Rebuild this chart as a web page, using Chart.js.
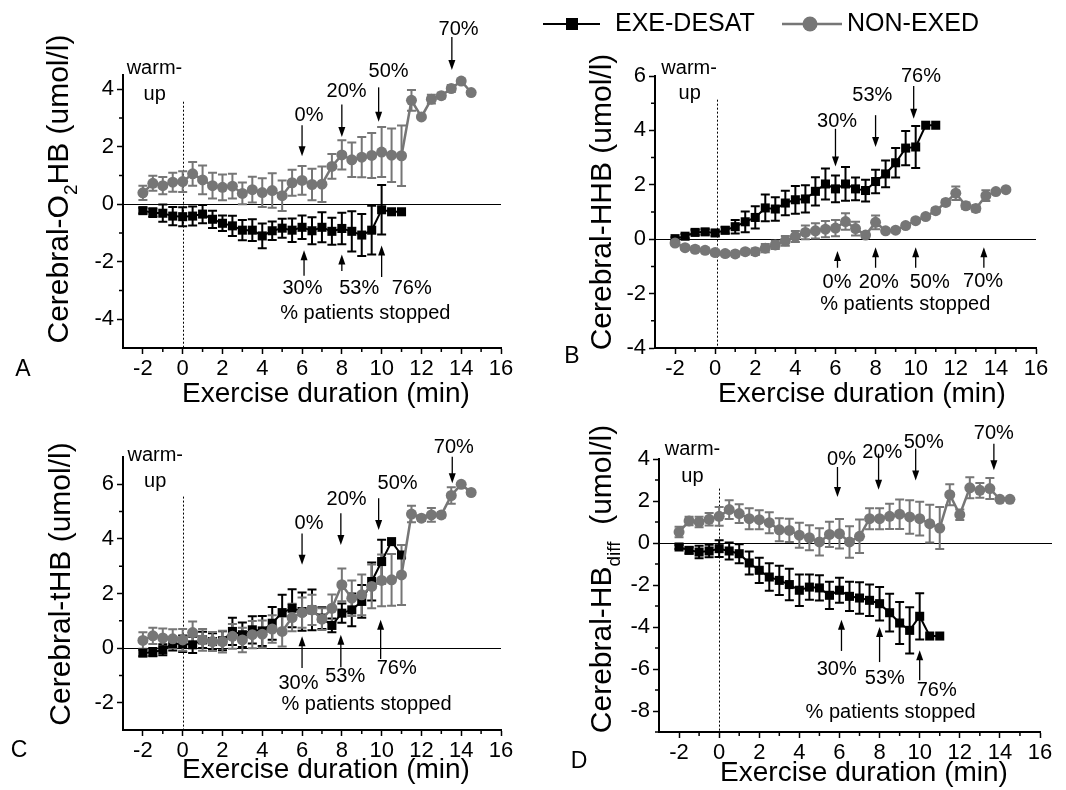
<!DOCTYPE html>
<html>
<head>
<meta charset="utf-8">
<script src="https://cdn.jsdelivr.net/npm/chart.js@4.4.0/dist/chart.umd.min.js"></script>
<style>
body { margin: 0; background: #fff; width: 1066px; height: 790px; position: relative; overflow: hidden; }
canvas { position: absolute; }
</style>
</head>
<body>
<canvas id="chartA" width="540" height="420" style="left:0px;top:0px"></canvas>
<canvas id="chartB" width="536" height="420" style="left:530px;top:0px"></canvas>
<canvas id="chartC" width="540" height="390" style="left:0px;top:400px"></canvas>
<canvas id="chartD" width="536" height="390" style="left:530px;top:400px"></canvas>
<script>
var FONT = '"Liberation Sans", Arial, sans-serif';
var GRAY = 'rgb(118,118,118)';

// time points (min)
var timesDesat = [-2, -1.5, -1, -0.5, 0, 0.5, 1, 1.5, 2, 2.5, 3, 3.5, 4, 4.5, 5, 5.5, 6, 6.5, 7, 7.5, 8, 8.5, 9, 9.5, 10, 10.5, 11];
var timesNon = [-2, -1.5, -1, -0.5, 0, 0.5, 1, 1.5, 2, 2.5, 3, 3.5, 4, 4.5, 5, 5.5, 6, 6.5, 7, 7.5, 8, 8.5, 9, 9.5, 10, 10.5, 11, 11.5, 12, 12.5, 13, 13.5, 14, 14.5];

var xTicks = [-2, 0, 2, 4, 6, 8, 10, 12, 14, 16];
var xMinor = [-1, 1, 3, 5, 7, 9, 11, 13, 15];

// A: Cerebral-O2HB
var o2hbDesat = [-0.22, -0.29, -0.31, -0.41, -0.43, -0.41, -0.34, -0.52, -0.66, -0.75, -0.90, -0.90, -1.10, -0.92, -0.83, -0.90, -0.80, -0.92, -0.80, -0.94, -0.84, -0.94, -1.07, -0.90, -0.19, -0.26, -0.26];
var o2hbDesatErr = [0.1, 0.15, 0.3, 0.32, 0.33, 0.33, 0.32, 0.3, 0.27, 0.35, 0.35, 0.38, 0.43, 0.32, 0.33, 0.41, 0.41, 0.47, 0.52, 0.47, 0.55, 0.7, 0.73, 0.85, 0.86, 0, 0];
var o2hbNon = [0.40, 0.73, 0.65, 0.77, 0.79, 1.06, 0.85, 0.65, 0.59, 0.63, 0.38, 0.51, 0.41, 0.48, 0.30, 0.75, 0.83, 0.69, 0.70, 1.32, 1.72, 1.55, 1.64, 1.70, 1.82, 1.71, 1.69, 3.62, 3.04, 3.66, 3.78, 4.03, 4.29, 3.89];
var o2hbNonErr = [0.25, 0.26, 0.3, 0.33, 0.36, 0.41, 0.5, 0.45, 0.45, 0.43, 0.38, 0.45, 0.5, 0.6, 0.53, 0.45, 0.5, 0.55, 0.62, 0.43, 0.51, 0.6, 0.7, 0.78, 0.87, 0.93, 1.05, 0.36, 0.05, 0.15, 0.1, 0.12, 0.05, 0.05];
var yTicksA = [-4, -2, 0, 2, 4];
var yMinorA = [-3, -1, 1, 3];

// B: Cerebral-HHB
var hhbDesat = [0.02, 0.11, 0.25, 0.27, 0.23, 0.33, 0.46, 0.64, 0.80, 1.15, 1.11, 1.33, 1.45, 1.48, 1.76, 2.03, 1.85, 2.03, 1.85, 1.79, 2.12, 2.40, 2.81, 3.35, 3.39, 4.19, 4.19];
var hhbDesatErr = [0.05, 0.08, 0.1, 0.1, 0.1, 0.12, 0.25, 0.38, 0.41, 0.49, 0.43, 0.45, 0.51, 0.5, 0.52, 0.57, 0.49, 0.62, 0.42, 0.4, 0.43, 0.49, 0.54, 0.63, 0.77, 0, 0];
var hhbNon = [-0.14, -0.31, -0.37, -0.41, -0.49, -0.53, -0.54, -0.46, -0.46, -0.33, -0.21, -0.06, 0.10, 0.25, 0.31, 0.37, 0.41, 0.65, 0.39, 0.15, 0.62, 0.31, 0.33, 0.50, 0.68, 0.83, 1.05, 1.35, 1.69, 1.23, 1.13, 1.60, 1.75, 1.82];
var hhbNonErr = [0.08, 0.08, 0.1, 0.1, 0.1, 0.1, 0.1, 0.1, 0.12, 0.15, 0.15, 0.18, 0.2, 0.25, 0.28, 0.3, 0.3, 0.3, 0.25, 0.1, 0.25, 0.08, 0.08, 0.08, 0.08, 0.08, 0.1, 0.1, 0.25, 0.12, 0.12, 0.2, 0.05, 0.05];
var yTicksB = [-4, -2, 0, 2, 4, 6];
var yMinorB = [-3, -1, 1, 3, 5];

// C: Cerebral-tHB
var thbDesat = [-0.18, -0.15, -0.06, 0.16, 0.16, 0.12, 0.30, 0.24, 0.27, 0.61, 0.49, 0.67, 0.63, 0.91, 1.30, 1.46, 1.34, 1.40, 1.10, 0.83, 1.28, 1.40, 1.71, 2.44, 3.17, 3.90, 3.41];
var thbDesatErr = [0.12, 0.15, 0.2, 0.25, 0.3, 0.3, 0.3, 0.3, 0.35, 0.5, 0.45, 0.5, 0.55, 0.6, 0.65, 0.7, 0.7, 0.75, 0.4, 0.25, 0.35, 0.6, 0.6, 0.7, 0.8, 0, 0.1];
var thbNon = [0.28, 0.45, 0.37, 0.34, 0.30, 0.57, 0.30, 0.24, 0.24, 0.43, 0.30, 0.49, 0.51, 0.70, 0.61, 1.12, 1.30, 1.40, 1.06, 1.46, 2.32, 1.83, 1.95, 2.26, 2.48, 2.50, 2.68, 4.91, 4.76, 4.88, 4.88, 5.59, 6.00, 5.70];
var thbNonErr = [0.3, 0.3, 0.35, 0.35, 0.4, 0.4, 0.4, 0.35, 0.4, 0.45, 0.45, 0.5, 0.5, 0.5, 0.55, 0.5, 0.55, 0.55, 0.4, 0.5, 0.6, 0.65, 0.75, 0.8, 0.95, 0.95, 1.1, 0.3, 0.1, 0.25, 0.1, 0.3, 0.05, 0.05];
var yTicksC = [-2, 0, 2, 4, 6];
var yMinorC = [-1, 1, 3, 5];

// D: Cerebral-HBdiff
var hbdiffDesat = [-0.19, -0.35, -0.43, -0.38, -0.27, -0.38, -0.51, -0.95, -1.30, -1.62, -1.78, -1.98, -2.25, -2.10, -2.14, -2.49, -2.25, -2.54, -2.62, -2.73, -2.89, -3.32, -3.81, -4.16, -3.49, -4.43, -4.43];
var hbdiffDesatErr = [0.1, 0.15, 0.3, 0.3, 0.4, 0.4, 0.45, 0.55, 0.6, 0.65, 0.7, 0.75, 0.75, 0.6, 0.6, 0.65, 0.6, 0.7, 0.75, 0.75, 0.8, 0.9, 1.0, 1.1, 1.1, 0, 0];
var hbdiffNon = [0.52, 1.05, 1.00, 1.13, 1.27, 1.59, 1.40, 1.16, 1.11, 0.97, 0.63, 0.60, 0.37, 0.25, 0.05, 0.41, 0.44, 0.05, 0.32, 1.16, 1.16, 1.27, 1.37, 1.24, 1.16, 0.92, 0.71, 2.30, 1.35, 2.63, 2.51, 2.59, 2.08, 2.08];
var hbdiffNonErr = [0.25, 0.2, 0.25, 0.3, 0.45, 0.45, 0.45, 0.5, 0.45, 0.5, 0.55, 0.55, 0.6, 0.6, 0.65, 0.6, 0.7, 0.75, 0.8, 0.5, 0.5, 0.6, 0.7, 0.8, 0.8, 0.9, 1.0, 0.5, 0.25, 0.5, 0.35, 0.5, 0.05, 0.05];
var yTicksD = [-8, -6, -4, -2, 0, 2, 4];
var yMinorD = [-9, -7, -5, -3, -1, 1, 3];

// annotations: [text, x, y] and arrows [x, yTail, yHead]
var labelsA = [['warm-', -1.42, 4.73], ['up', -1.41, 3.82], ['0%', 6.35, 3.1], ['20%', 8.24, 3.92], ['50%', 10.35, 4.62], ['70%', 13.87, 6.1],
    ['30%', 6.02, -2.93], ['53%', 8.87, -2.93], ['76%', 11.51, -2.93], ['% patients stopped', 9.18, -3.81]];
var arrowsA = [[6, 2.75, 1.67], [8, 3.47, 2.34], [9.85, 4.07, 2.87], [13.53, 5.82, 4.67], [6.1, -2.49, -1.6], [8, -2.32, -1.75], [10, -2.53, -1.43]];

var labelsB = [['warm-', -1.3, 6.28], ['up', -1.27, 5.36], ['30%', 6.08, 4.31], ['53%', 7.84, 5.3], ['76%', 10.26, 5.97],
    ['0%', 6.08, -1.6], ['20%', 8.16, -1.6], ['50%', 10.7, -1.6], ['70%', 13.36, -1.55], ['% patients stopped', 9.48, -2.4]];
var arrowsB = [[6, 4.06, 2.67], [8, 4.56, 3.39], [9.9, 5.63, 4.43], [6.1, -1.05, -0.43], [8, -1.05, -0.3], [10, -1.05, -0.3], [13.4, -1.05, -0.3]];

var labelsC = [['warm-', -1.38, 7.07], ['up', -1.38, 6.1], ['0%', 6.35, 4.57], ['20%', 8.24, 5.43], ['50%', 10.8, 6.04], ['70%', 13.63, 7.35],
    ['30%', 5.82, -1.28], ['53%', 8.17, -1.04], ['76%', 10.76, -0.73], ['% patients stopped', 9.24, -2.07]];
var arrowsC = [[6, 4.2, 3.05], [7.95, 4.94, 3.78], [9.85, 5.49, 4.33], [13.55, 7.01, 6.04], [6, -0.73, 0.43], [7.95, -0.7, 0.49], [9.95, -0.4, 1.04]];

var labelsD = [['warm-', -1.33, 4.44], ['up', -1.33, 3.17], ['0%', 6.1, 3.97], ['20%', 8.14, 4.33], ['50%', 10.2, 4.81], ['70%', 13.7, 5.2],
    ['30%', 5.86, -6.03], ['53%', 8.26, -6.46], ['76%', 10.85, -7.02], ['% patients stopped', 8.55, -8.05]];
var arrowsD = [[5.9, 3.62, 2.19], [7.95, 4.25, 2.54], [9.8, 4.49, 2.98], [13.7, 4.73, 3.46], [6.1, -5.14, -3.65], [8, -5.67, -4.0], [10, -6.54, -5.11]];


function pts(xs, ys) {
    return xs.map(function (x, i) { return { x: x, y: ys[i] }; });
}

function drawArrow(ctx, x, y1, y2) {
    var dir = y2 > y1 ? 1 : -1;
    ctx.beginPath();
    ctx.moveTo(x, y1);
    ctx.lineTo(x, y2 - dir * 8);
    ctx.stroke();
    ctx.beginPath();
    ctx.moveTo(x, y2);
    ctx.lineTo(x - 3.5, y2 - dir * 10);
    ctx.lineTo(x + 3.5, y2 - dir * 10);
    ctx.closePath();
    ctx.fill();
}

function drawTitleParts(ctx, parts, cx, cy, size, rotate) {
    ctx.save();
    ctx.translate(cx, cy);
    if (rotate) ctx.rotate(-Math.PI / 2);
    var total = 0;
    parts.forEach(function (p) {
        ctx.font = (p.sub ? Math.round(size * 0.62) : size) + 'px ' + FONT;
        p.w = ctx.measureText(p.t).width;
        total += p.w;
    });
    var x = -total / 2;
    ctx.textAlign = 'left';
    ctx.textBaseline = 'middle';
    ctx.fillStyle = '#000';
    parts.forEach(function (p) {
        ctx.font = (p.sub ? Math.round(size * 0.62) : size) + 'px ' + FONT;
        ctx.fillText(p.t, x, p.sub ? size * 0.38 : 0);
        x += p.w;
    });
    ctx.restore();
}

var panelDecor = {
    id: 'panelDecor',
    beforeDatasetsDraw: function (chart, args, opts) {
        var ctx = chart.ctx, xs = chart.scales.x, ys = chart.scales.y, area = chart.chartArea;
        ctx.save();
        // zero line
        ctx.strokeStyle = '#000';
        ctx.lineWidth = 1;
        ctx.beginPath();
        ctx.moveTo(area.left, Math.round(ys.getPixelForValue(0)) + 0.5);
        ctx.lineTo(area.right + opts.zeroExtra, Math.round(ys.getPixelForValue(0)) + 0.5);
        ctx.stroke();
        // dotted warm-up line
        ctx.setLineDash([2, 2]);
        ctx.beginPath();
        var dx = Math.round(xs.getPixelForValue(opts.warmX)) + 0.5;
        ctx.moveTo(dx, ys.getPixelForValue(opts.warmTop));
        ctx.lineTo(dx, area.bottom);
        ctx.stroke();
        ctx.setLineDash([]);
        // error bars
        chart.data.datasets.forEach(function (ds) {
            ctx.strokeStyle = ds.borderColor;
            ctx.lineWidth = 2;
            ds.data.forEach(function (p, i) {
                var e = ds.errors[i];
                if (!e) return;
                var px = xs.getPixelForValue(p.x);
                var top = ys.getPixelForValue(p.y + e), bot = ys.getPixelForValue(p.y - e);
                ctx.beginPath();
                ctx.moveTo(px, top); ctx.lineTo(px, bot);
                ctx.moveTo(px - 4.5, top); ctx.lineTo(px + 4.5, top);
                ctx.moveTo(px - 4.5, bot); ctx.lineTo(px + 4.5, bot);
                ctx.stroke();
            });
        });
        ctx.restore();
    },
    afterDraw: function (chart, args, opts) {
        var ctx = chart.ctx, xs = chart.scales.x, ys = chart.scales.y, area = chart.chartArea;
        ctx.save();
        ctx.strokeStyle = '#000';
        ctx.fillStyle = '#000';
        // minor ticks
        ctx.lineWidth = 1.5;
        ctx.beginPath();
        opts.xMinor.forEach(function (v) {
            var px = xs.getPixelForValue(v);
            ctx.moveTo(px, area.bottom); ctx.lineTo(px, area.bottom + 4);
        });
        opts.yMinor.forEach(function (v) {
            var py = ys.getPixelForValue(v);
            ctx.moveTo(area.left, py); ctx.lineTo(area.left - 4, py);
        });
        ctx.stroke();
        // arrows
        ctx.lineWidth = 1.3;
        opts.arrows.forEach(function (a) {
            drawArrow(ctx, xs.getPixelForValue(a[0]), ys.getPixelForValue(a[1]), ys.getPixelForValue(a[2]));
        });
        // annotation texts
        ctx.font = '20px ' + FONT;
        ctx.textAlign = 'center';
        ctx.textBaseline = 'middle';
        opts.labels.forEach(function (l) {
            ctx.fillText(l[0], xs.getPixelForValue(l[1]), ys.getPixelForValue(l[2]));
        });
        // panel letter
        ctx.font = '23px ' + FONT;
        ctx.fillText(opts.letter[0], opts.letter[1], opts.letter[2]);
        // axis titles
        drawTitleParts(ctx, [{ t: 'Exercise duration (min)' }], opts.xTitlePos[0], opts.xTitlePos[1], 28, false);
        drawTitleParts(ctx, opts.yTitle, opts.yTitlePos[0], opts.yTitlePos[1], 30, true);
        // legend
        if (opts.legend) {
            ctx.lineWidth = 2;
            ctx.strokeStyle = '#000';
            ctx.beginPath(); ctx.moveTo(13, 24); ctx.lineTo(70, 24); ctx.stroke();
            ctx.fillRect(36, 18, 12, 12);
            ctx.strokeStyle = GRAY;
            ctx.fillStyle = GRAY;
            ctx.lineWidth = 2.5;
            ctx.beginPath(); ctx.moveTo(252, 24); ctx.lineTo(312, 24); ctx.stroke();
            ctx.beginPath(); ctx.arc(280, 24, 7.5, 0, Math.PI * 2); ctx.fill();
            ctx.fillStyle = '#000';
            ctx.font = '25px ' + FONT;
            ctx.textAlign = 'left';
            ctx.fillText('EXE-DESAT', 85, 24);
            ctx.fillText('NON-EXED', 317, 24);
        }
        ctx.restore();
    }
};

function makePanel(id, box, yMin, yMax, yTicks, desat, desatErr, non, nonErr, decor) {
    var data = {
        datasets: [{
            label: 'EXE-DESAT',
            data: pts(timesDesat, desat),
            errors: desatErr,
            borderColor: '#000',
            backgroundColor: '#000',
            borderWidth: 2,
            pointStyle: 'rect',
            pointRadius: 6.4,
            pointBorderWidth: 0,
            order: 1
        }, {
            label: 'NON-EXED',
            data: pts(timesNon, non),
            errors: nonErr,
            borderColor: GRAY,
            backgroundColor: GRAY,
            borderWidth: 2.5,
            pointStyle: 'circle',
            pointRadius: 5.5,
            pointBorderWidth: 0,
            order: 0
        }]
    };
    var config = {
        type: 'line',
        data: data,
        options: {
            responsive: false,
            animation: false,
            devicePixelRatio: 1,
            layout: { padding: { left: 0, top: box.top, right: box.right, bottom: 0 } },
            plugins: { legend: { display: false }, tooltip: { enabled: false }, panelDecor: decor },
            scales: {
                x: {
                    type: 'linear', min: -3, max: 16,
                    afterBuildTicks: function (s) { s.ticks = xTicks.map(function (v) { return { value: v }; }); },
                    afterFit: function (s) { s.height = box.xh; },
                    grid: { drawOnChartArea: false, drawTicks: true, tickLength: 6, color: '#000', tickWidth: 1.5 },
                    border: { display: true, color: '#000', width: 2 },
                    ticks: { color: '#000', font: { family: FONT, size: 22 }, padding: 2, maxRotation: 0, autoSkip: false }
                },
                y: {
                    type: 'linear', min: yMin, max: yMax,
                    afterBuildTicks: function (s) { s.ticks = yTicks.map(function (v) { return { value: v }; }); },
                    afterFit: function (s) { s.width = box.yw; },
                    grid: { drawOnChartArea: false, drawTicks: true, tickLength: 6, color: '#000', tickWidth: 1.5 },
                    border: { display: true, color: '#000', width: 2 },
                    ticks: { color: '#000', font: { family: FONT, size: 22 }, padding: 3, autoSkip: false }
                }
            }
        },
        plugins: [panelDecor]
    };
    return new Chart(document.getElementById(id), config);
}

var chartA = makePanel('chartA', { top: 75, right: 39, xh: 72, yw: 123 }, -5, 4.5, yTicksA, o2hbDesat, o2hbDesatErr, o2hbNon, o2hbNonErr, {
    labels: labelsA, arrows: arrowsA, xMinor: xMinor, yMinor: yMinorA, warmX: 0, warmTop: 3.57, zeroExtra: 0,
    letter: ['A', 23, 370], xTitlePos: [326, 394], yTitlePos: [60, 189],
    yTitle: [{ t: 'Cerebral-O' }, { t: '2', sub: true }, { t: 'HB (umol/l)' }]
});

var chartB = makePanel('chartB', { top: 76, right: 30, xh: 72, yw: 125 }, -4, 6, yTicksB, hhbDesat, hhbDesatErr, hhbNon, hhbNonErr, {
    labels: labelsB, arrows: arrowsB, xMinor: xMinor, yMinor: yMinorB, warmX: 0.1, warmTop: 5.13, zeroExtra: 0,
    letter: ['B', 42, 357], xTitlePos: [332, 394], yTitlePos: [73, 202], legend: true,
    yTitle: [{ t: 'Cerebral-HHB (umol/l)' }]
});

var chartC = makePanel('chartC', { top: 57, right: 39, xh: 60, yw: 123 }, -3, 7, yTicksC, thbDesat, thbDesatErr, thbNon, thbNonErr, {
    labels: labelsC, arrows: arrowsC, xMinor: xMinor, yMinor: yMinorC, warmX: 0, warmTop: 5.55, zeroExtra: 0,
    letter: ['C', 19, 351], xTitlePos: [326, 370], yTitlePos: [62, 184],
    yTitle: [{ t: 'Cerebral-tHB (umol/l)' }]
});

var chartD = makePanel('chartD', { top: 59, right: 26, xh: 58, yw: 129 }, -9, 4, yTicksD, hbdiffDesat, hbdiffDesatErr, hbdiffNon, hbdiffNonErr, {
    labels: labelsD, arrows: arrowsD, xMinor: xMinor, yMinor: yMinorD, warmX: 0, warmTop: 2.59, zeroExtra: 12,
    letter: ['D', 49, 362], xTitlePos: [334, 373], yTitlePos: [73, 179],
    yTitle: [{ t: 'Cerebral-HB' }, { t: 'diff', sub: true }, { t: '  (umol/l)' }]
});
</script>
</body>
</html>
